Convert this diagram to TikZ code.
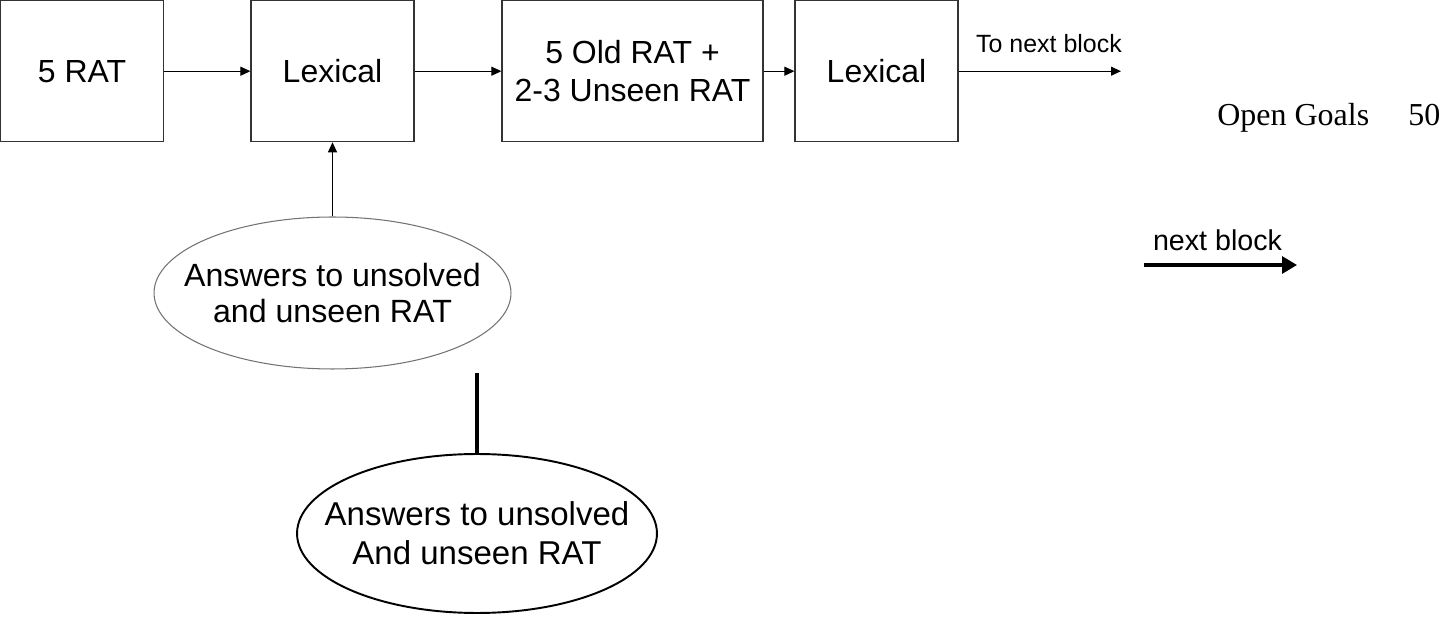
\documentclass[tikz,border=0pt]{standalone}
\usepackage{fontspec}
\setmainfont{Liberation Serif}
\newfontfamily\arialfont{Liberation Sans}
\usetikzlibrary{arrows.meta,shapes.geometric}

\begin{document}
\begin{tikzpicture}[x=0.02cm,y=-0.02cm,
	blockbox/.style={draw=black!80, line width=0.7pt, minimum height=2.82cm, inner sep=0pt, align=center, font=\arialfont\fontsize{18.2}{21.6}\selectfont},
	answerell/.style={ellipse, inner xsep=-0.7cm, inner ysep=0pt, align=center},
	flow/.style={-{Triangle[length=0.2cm,width=0.18cm]}, line width=0.6pt}]
	\useasboundingbox (0,0) rectangle (1456,617);
	% top row of blocks
	\node[blockbox, minimum width=3.26cm] (rat) at (82,71.2) {5 RAT};
	\node[blockbox, minimum width=3.26cm] (lex1) at (332.5,71.2) {Lexical};
	\node[blockbox, minimum width=5.22cm] (mix) at (632.5,71.2) {5 Old RAT +\\2-3 Unseen RAT};
	\node[blockbox, minimum width=3.26cm] (lex2) at (876.5,71.2) {Lexical};
	\coordinate (out) at (1121,71.2);
	\node[anchor=base, inner sep=0pt, font=\arialfont\fontsize{14.2}{17}\selectfont] (outlbl) at (1049,53) {To next block};
	\draw[flow] (rat) -- (lex1);
	\draw[flow] (lex1) -- (mix);
	\draw[flow] (mix) -- (lex2);
	\draw[flow] (lex2) -- (out);
	% answers feeding the first lexical block
	\node[answerell, draw=black!55, line width=0.6pt, minimum width=7.14cm, minimum height=3.04cm, font=\arialfont\fontsize{18.3}{20.8}\selectfont] (ans) at (332.5,293) {Answers to unsolved\\and unseen RAT};
	\draw[flow] (ans) -- (lex1);
	% second version of the answers
	\node[answerell, draw=black, line width=1.1pt, minimum width=7.2cm, minimum height=3.18cm, font=\arialfont\fontsize{18.8}{22.2}\selectfont] (ans2) at (477,533.5) {Answers to unsolved\\And unseen RAT};
	\coordinate (stub) at (477,373);
	\draw[line width=2pt] (ans2) -- (stub);
	% right side
	\node[anchor=base west, inner sep=0pt, font=\fontsize{18.2}{21.6}\selectfont] (goals) at (1217,126) {Open Goals};
	\node[anchor=base west, inner sep=0pt, font=\fontsize{18.2}{21.6}\selectfont] (page) at (1408,126) {50};
	\node[anchor=base, inner sep=0pt, font=\arialfont\fontsize{16.3}{19.5}\selectfont] (nextlbl) at (1217.5,251) {next block};
	\coordinate (nbs) at (1144,265);
	\coordinate (nbe) at (1297,265);
	\draw[line width=1.9pt, -{Triangle[length=0.3cm,width=0.34cm]}] (nbs) -- (nbe);
\end{tikzpicture}
\end{document}
